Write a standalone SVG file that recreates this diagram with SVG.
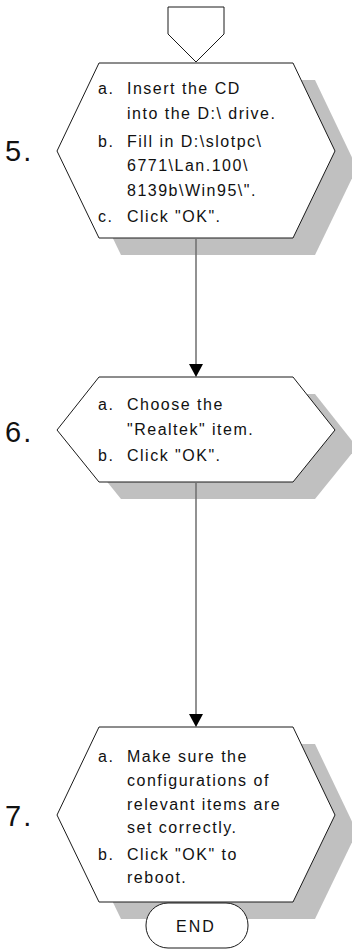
<svg xmlns="http://www.w3.org/2000/svg" width="352" height="949" viewBox="0 0 352 949">
<style>
.bg{fill:#ffffff}
.shape{fill:#ffffff;stroke:#1a1a1a;stroke-width:1}
.shadow{fill:#c0c0c0;stroke:none}
.t{font-family:"Liberation Sans",Arial,sans-serif;font-size:16px;letter-spacing:1.5px;fill:#111}
.num{font-family:"Liberation Sans",Arial,sans-serif;font-size:29px;letter-spacing:2px;fill:#111}
.end{font-family:"Liberation Sans",Arial,sans-serif;font-size:16px;letter-spacing:2px;fill:#111;text-anchor:middle}
.conn{stroke:#6e6e6e;stroke-width:1.5;fill:none}
.head{fill:#000}
</style>
<defs>
<path id="hex1" d="M99,63 H293 L335,151 L293,238 H99 L57,151 Z"/>
<path id="hex2" d="M99,377 H293 L335,430 L293,482 H99 L57,430 Z"/>
<path id="hex3" d="M99,727 H293 L335,815 L293,902 H99 L57,815 Z"/>
</defs>
<rect class="bg" x="0" y="0" width="352" height="949"/>

<g id="start">
<path class="shape" d="M168,7 H224 V34 L196,62 L168,34 Z"/>
</g>

<g id="step5">
<use href="#hex1" class="shadow" transform="translate(22,17)"/>
<use href="#hex1" class="shape"/>
<text class="num" x="5" y="161">5.</text>
<text class="t" x="98" y="94">a.</text>
<text class="t" x="127" y="94">Insert the CD</text>
<text class="t" x="127" y="119">into the D:\ drive.</text>
<text class="t" x="98" y="147">b.</text>
<text class="t" x="127" y="147">Fill in D:\slotpc\</text>
<text class="t" x="127" y="171">6771\Lan.100\</text>
<text class="t" x="127" y="196">8139b\Win95\".</text>
<text class="t" x="98" y="222">c.</text>
<text class="t" x="127" y="222">Click "OK".</text>
</g>

<g id="step6">
<use href="#hex2" class="shadow" transform="translate(22,17)"/>
<use href="#hex2" class="shape"/>
<text class="num" x="5" y="442">6.</text>
<text class="t" x="98" y="410">a.</text>
<text class="t" x="127" y="410">Choose the</text>
<text class="t" x="127" y="435">"Realtek" item.</text>
<text class="t" x="98" y="461">b.</text>
<text class="t" x="127" y="461">Click "OK".</text>
</g>

<g id="step7">
<use href="#hex3" class="shadow" transform="translate(22,17)"/>
<use href="#hex3" class="shape"/>
<text class="num" x="5" y="826">7.</text>
<text class="t" x="98" y="762">a.</text>
<text class="t" x="127" y="762">Make sure the</text>
<text class="t" x="127" y="786">configurations of</text>
<text class="t" x="127" y="810">relevant items are</text>
<text class="t" x="127" y="833">set correctly.</text>
<text class="t" x="98" y="860">b.</text>
<text class="t" x="127" y="860">Click "OK" to</text>
<text class="t" x="127" y="883">reboot.</text>
</g>

<g id="end">
<rect class="shape" x="146" y="903" width="102" height="45" rx="22" ry="22"/>
<text class="end" x="196" y="932">END</text>
</g>

<g id="connectors">
<line class="conn" x1="196" y1="238" x2="196" y2="366"/>
<polygon class="head" points="189,364 203,364 196,377"/>
<line class="conn" x1="196" y1="482" x2="196" y2="716"/>
<polygon class="head" points="189,714 203,714 196,727"/>
</g>
</svg>
